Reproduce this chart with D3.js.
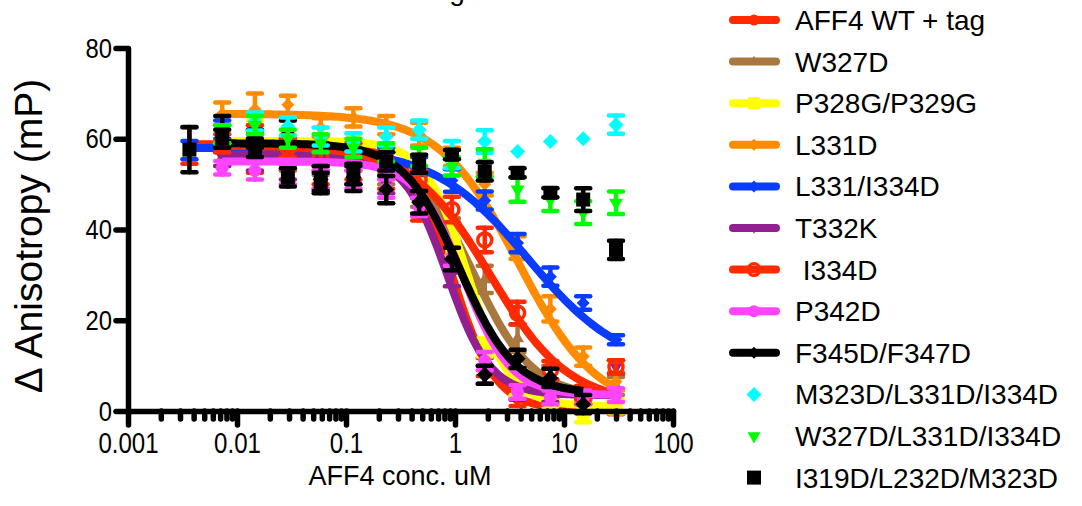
<!DOCTYPE html>
<html><head><meta charset="utf-8">
<script src="https://cdn.jsdelivr.net/npm/d3@7"></script>
<style>
body{margin:0;background:#fff;}
svg{display:block;font-family:"Liberation Sans",Arial,Helvetica,sans-serif;}
</style>
</head><body>
<svg id="chart" width="1082" height="506"></svg>
<script>
// ---------------- DATA ----------------
const concentrations = [0.00366, 0.00732, 0.0146, 0.0293, 0.0586, 0.117, 0.234, 0.469, 0.9375, 1.875, 3.75, 7.5, 15, 30];
const seriesNames = ["AFF4 WT + tag","W327D","P328G/P329G","L331D","L331/I334D","T332K"," I334D","P342D","F345D/F347D","M323D/L331D/I334D","W327D/L331D/I334D","I319D/L232D/M323D"];
const xTickValues = [0.001, 0.01, 0.1, 1, 10, 100];
const xTickLabels = ["0.001","0.01","0.1","1","10","100"];
const yTickValues = [0, 20, 40, 60, 80];
const titleText = "AFF4 mutants binding to ELL2";
const xLabel = "AFF4 conc. uM";
const yLabel = "\u0394 Anisotropy (mP)";

const wtMean    = [58.5, 60, 57, 55, 52, 53, 51, 44.5, 33, 9.7, 2.6, 1.5, 1.0, 0.8];
const wtErr     = [4, 3, 4.5, 2, 2, 2, 2, 2.5, 2.5, 2, 1.5, 1.5, 1.5, 1.5];
const w327Mean  = [null, 56, 57, 55, 54, 55, 52, 47, 40, 29, 16, 8, 4, 5.5];
const w327Err   = [null, 2, 2, 2, 2, 2, 2, 2, 2.5, 3, 3, 2, 1.5, 2];
const p328Mean  = [null, 61, 62, 59, 57, 59, 56, 50, 36, 14, 5, 2, -0.5, 1];
const p328Err   = [null, 2, 2, 2, 2, 2, 2, 2, 2, 2, 1.5, 1.5, 2, 1.5];
const l331Mean  = [null, 65.5, 66.5, 67.5, 62.5, 64.7, 63, 61, 56, 50, 36, 22.5, 12, 6.5];
const l331Err   = [null, 2.5, 3.5, 2, 2, 2, 2, 2.5, 2, 2.5, 2.5, 2.8, 2, 2];
const l331i334Mean = [57.5, 62, 60, 58, 57, 56, 56, 54, 50.8, 46.4, 37, 29.6, 23.8, 15.7];
const l331i334Err  = [2, 2, 2, 2, 2, 2, 2, 2, 2.5, 2, 2, 2, 1.5, 1];
const t332Mean  = [null, 56, 55, 53, 51, 52, 50, 45, 30, 8, 4, 3.5, 3, 9.7];
const t332Err   = [null, 2, 2, 2, 2, 2, 2, 2, 2.5, 2, 1.5, 1.5, 1.5, 1.5];
const i334Mean  = [null, 59, 61, 58, 56, 57, 55, 51, 44.4, 37.7, 21.6, 9, 4, 9.7];
const i334Err   = [null, 2, 2, 2, 2, 2, 2, 2, 2.8, 2.7, 2.5, 2, 1.5, 1.5];
const p342Mean  = [null, 53.6, 53, 52, 51, 51, 49, 45, 34, 11, 4.2, 3, 3, 3.5];
const p342Err   = [null, 1.5, 2, 2, 2, 2, 2, 2, 2, 2, 1.5, 1.5, 1.5, 1.5];
const f345Mean  = [null, 62, 60, 61, 51, 51.5, 48.8, 46, 33.5, 8, 11.5, 7.3, 1.5, null];
const f345Err   = [null, 3, 2, 3, 3, 3, 3, 2.5, 2.5, 2, 2, 2, 2, null];
const m323Mean  = [null, 61, 63.8, 62.7, 60.5, 59.2, 60.5, 62, 56.5, 59.4, 57.2, 59.4, 60, 63.1];
const m323Err   = [null, 2, 2, 2, 2, 2, 2, 2, 3, 2.5, 0, 0, 0, 2];
const w327tMean = [null, 61, 63, 60, 59, 58, 57, 56, 53.9, 54.7, 48.8, 46.6, 43.7, 45.9];
const w327tErr  = [null, 2, 2, 2, 2, 2, 2, 2, 2, 3, 2.7, 2.5, 2.5, 2.5];
const i319Mean  = [57.6, 60, 58, 51.5, 50.5, 52, 55, 54.5, 56.5, 52.8, 52.5, 48.1, 46.6, 35.5];
const i319Err   = [5, 2, 2, 2, 2, 2, 2, 2, 1, 2, 1, 1, 2.5, 2];

const allMeans = [wtMean, w327Mean, p328Mean, l331Mean, l331i334Mean, t332Mean, i334Mean, p342Mean, f345Mean, m323Mean, w327tMean, i319Mean];
const allErrs  = [wtErr, w327Err, p328Err, l331Err, l331i334Err, t332Err, i334Err, p342Err, f345Err, m323Err, w327tErr, i319Err];

// sigmoidal dose-response fit parameters (top, bottom, EC50 uM, Hill slope, fitted range)
const fitTop    = [58.8, 57, 59.5, 65.5, 58, 56.5, 58.5, 55, 59, null, null, null];
const fitBottom = [0.3, 3, 1, 0, 9, 3.5, 1.5, 3.5, 3.8, null, null, null];
const fitEC50   = [0.95, 1.5, 1.3, 3.8, 4.7, 0.85, 2.1, 1.2, 1.1, null, null, null];
const fitHill   = [2.2, 1.6, 2.2, 1.2, 1.0, 2.2, 1.2, 2.0, 1.7, null, null, null];
const fitStart  = [0.00366, 0.00732, 0.00732, 0.00732, 0.00366, 0.00732, 0.00732, 0.00732, 0.00732, null, null, null];
const fitEnd    = [30, 30, 30, 30, 30, 30, 30, 30, 15, null, null, null];

// ---------------- STYLE ----------------
const styles = [
  {color:"#ff2a00", marker:"circle",  size:5.5},
  {color:"#a8783f", marker:"triUp",   size:13},
  {color:"#ffff00", marker:"square",  size:6.5},
  {color:"#ff8c00", marker:"diamond", size:6.5},
  {color:"#0a3cff", marker:"diamond", size:6.5},
  {color:"#922090", marker:"triDown", size:13},
  {color:"#ff2a00", marker:"ring",    size:7},
  {color:"#ff44ff", marker:"circle",  size:6.5},
  {color:"#000000", marker:"diamond", size:8},
  {color:"#00ffff", marker:"diamond", size:7.5},
  {color:"#00ff00", marker:"triDown", size:14},
  {color:"#000000", marker:"square",  size:7}
];

function markerPath(type, s) {
  if (type === "circle" || type === "ring") return d3.symbol(d3.symbolCircle, Math.PI * s * s)();
  if (type === "square") return `M${-s},${-s}H${s}V${s}H${-s}Z`;
  if (type === "diamond") return `M0,${-s}L${s},0L0,${s}L${-s},0Z`;
  const h = s * Math.sqrt(3) / 2;
  if (type === "triUp") return `M0,${-2*h/3}L${s/2},${h/3}L${-s/2},${h/3}Z`;
  return `M0,${2*h/3}L${s/2},${-h/3}L${-s/2},${-h/3}Z`;
}

// ---------------- CHART ----------------
const svg = d3.select("#chart");
const x = d3.scaleLog().domain([0.001, 100]).range([128, 673]);
const y = d3.scaleLinear().domain([0, 80]).range([411, 48]);
const AX = 5.5;

// title (cropped at the top edge in the original figure)
svg.append("text").attr("x", 380).attr("y", -0.5).attr("text-anchor", "middle")
  .attr("font-size", 28).text(titleText);

// data series
const line = d3.line().x(d => x(d[0])).y(d => y(d[1]));
allMeans.forEach((means, i) => {
  const st = styles[i];
  const g = svg.append("g");
  if (fitTop[i] !== null) {
    const lo = Math.log10(fitStart[i]), hi = Math.log10(fitEnd[i]);
    const pts = d3.range(0, 161).map(k => {
      const lx = lo + (hi - lo) * k / 160;
      return [Math.pow(10, lx), fitBottom[i] + (fitTop[i] - fitBottom[i]) / (1 + Math.pow(10, (lx - Math.log10(fitEC50[i])) * fitHill[i]))];
    });
    g.append("path").attr("d", line(pts)).attr("fill", "none")
      .attr("stroke", st.color).attr("stroke-width", 8).attr("stroke-linecap", "butt");
  }
  const pts = concentrations.map((c, j) => ({c, m: means[j], e: allErrs[i][j]})).filter(p => p.m !== null);
  const eb = g.append("g").attr("stroke", st.color).attr("stroke-width", 4.5).attr("stroke-linecap", "round");
  pts.forEach(p => {
    if (!p.e) return;
    const cx = x(p.c), y1 = y(p.m + p.e), y2 = y(p.m - p.e);
    eb.append("line").attr("x1", cx).attr("x2", cx).attr("y1", y1).attr("y2", y2);
    eb.append("line").attr("x1", cx - 7).attr("x2", cx + 7).attr("y1", y1).attr("y2", y1);
    eb.append("line").attr("x1", cx - 7).attr("x2", cx + 7).attr("y1", y2).attr("y2", y2);
  });
  g.selectAll("path.mk").data(pts).join("path").attr("class", "mk")
    .attr("transform", p => `translate(${x(p.c)},${y(p.m)})`)
    .attr("d", markerPath(st.marker, st.size))
    .attr("fill", st.marker === "ring" ? "none" : st.color)
    .attr("stroke", st.marker === "ring" ? st.color : "none")
    .attr("stroke-width", 3.5);
});

// axes
function styleAxis(g) {
  g.selectAll("path,line").attr("stroke", "#000").attr("stroke-width", AX).attr("stroke-linecap", "round");
  g.selectAll("text").attr("fill", "#000").attr("font-family", '"Liberation Sans",Arial,sans-serif');
}
const minorTicks = x.ticks().filter(t => !xTickValues.some(v => Math.abs(v - t) / v < 1e-6));
const gMinor = svg.append("g").attr("transform", "translate(0,411)")
  .call(d3.axisBottom(x).tickValues(minorTicks).tickSize(8).tickSizeOuter(0).tickFormat(""));
styleAxis(gMinor);
gMinor.select(".domain").remove();
const gx = svg.append("g").attr("transform", "translate(0,411)")
  .call(d3.axisBottom(x).tickValues(xTickValues).tickSize(14).tickSizeOuter(0)
    .tickFormat((d, i) => xTickLabels[i]).tickPadding(5));
styleAxis(gx);
gx.selectAll("text").attr("font-size", 29).attr("transform", "scale(0.83,1)").attr("dy", "0.8em");

const gy = svg.append("g").attr("transform", "translate(128,0)")
  .call(d3.axisLeft(y).tickValues(yTickValues).tickSize(12).tickSizeOuter(0).tickPadding(4));
styleAxis(gy);
gy.selectAll("text").attr("font-size", 28).attr("transform", "scale(0.85,1)")
  .attr("x", -16 / 0.85).attr("dy", "0.33em");

// axis titles
svg.append("text").attr("transform", "translate(400,485)").attr("text-anchor", "middle")
  .attr("font-size", 27).text(xLabel);
svg.append("text").attr("transform", "translate(42,236) rotate(-90)").attr("text-anchor", "middle")
  .attr("font-size", 39).text(yLabel);

// legend
const lg = svg.append("g");
seriesNames.forEach((name, i) => {
  const st = styles[i];
  const cy = 20 + i * 41.6;
  const row = lg.append("g").attr("transform", `translate(0,${cy})`);
  const hasFit = fitTop[i] !== null;
  if (hasFit) {
    row.append("line").attr("x1", 733).attr("x2", 776).attr("y1", 0).attr("y2", 0)
      .attr("stroke", st.color).attr("stroke-width", 8).attr("stroke-linecap", "round");
  }
  let s = hasFit ? Math.min(st.size, 6) : st.size;
  if (st.marker === "triUp" || st.marker === "triDown") s = hasFit ? 10 : 13;
  row.append("path").attr("transform", "translate(754,0)")
    .attr("d", markerPath(st.marker, s))
    .attr("fill", st.marker === "ring" ? "none" : st.color)
    .attr("stroke", st.marker === "ring" ? st.color : "none").attr("stroke-width", 3);
  row.append("text").attr("x", 795).attr("y", 0).attr("dy", "0.36em")
    .attr("font-size", 28).style("white-space", "pre").text(name);
});
</script>
</body></html>
